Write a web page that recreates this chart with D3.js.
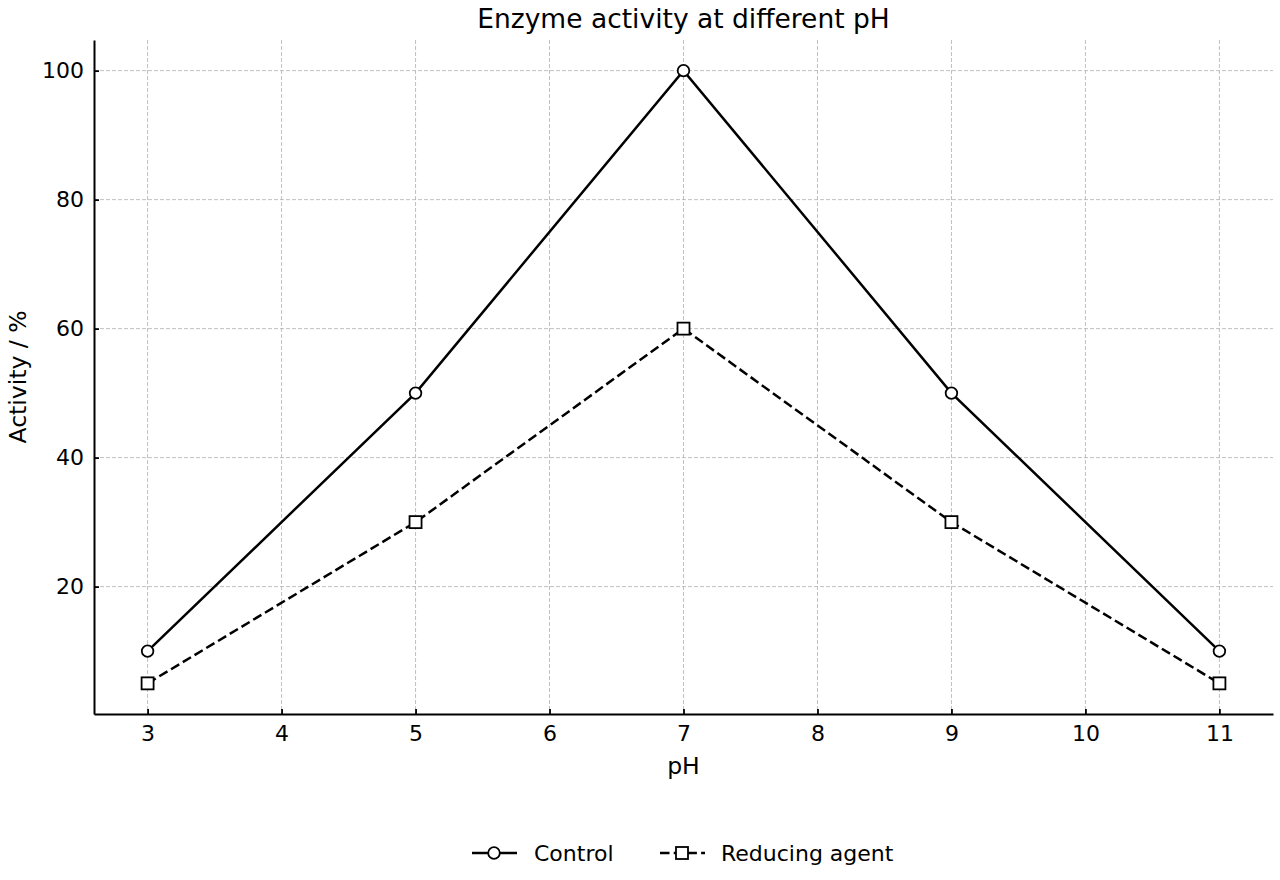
<!DOCTYPE html>
<html>
<head>
<meta charset="utf-8">
<script src="https://cdn.jsdelivr.net/npm/d3@7"></script>
<style>
  body { margin: 0; background: #fff; }
  svg { font-family: "DejaVu Sans", sans-serif; }
  .grid line { stroke: #b0b0b0; stroke-width: 0.8; stroke-dasharray: 4,2; }
  .axis path, .axis line { stroke: #000; }
  .axis path { stroke-width: 2; }
  .axis line { stroke-width: 1.8; }
  .axis text { fill: #000; font-family: "DejaVu Sans", sans-serif; font-size: 22px; }
</style>
</head>
<body>
<svg id="chart" width="1280" height="880"></svg>
<script>
var phValues = [3, 5, 7, 9, 11];
var controlValues = [10, 50, 100, 50, 10];
var reducingValues = [5, 30, 60, 30, 5];
var xTicks = [3, 4, 5, 6, 7, 8, 9, 10, 11];
var yTicks = [20, 40, 60, 80, 100];
var seriesNames = ["Control", "Reducing agent"];

var margin = {top: 40, right: 7, bottom: 166, left: 94};
var width = 1280 - margin.left - margin.right,
    height = 880 - margin.top - margin.bottom;

var svg = d3.select("#chart");
var g = svg.append("g")
    .attr("transform", "translate(" + margin.left + "," + margin.top + ")");

var x = d3.scaleLinear().domain([2.6, 11.4]).range([0, width]);
var y = d3.scaleLinear().domain([0.25, 104.75]).range([height, 0]);

// grid
g.append("g").attr("class", "grid")
  .selectAll("line").data(xTicks).enter().append("line")
    .attr("x1", function(d) { return x(d); })
    .attr("x2", function(d) { return x(d); })
    .attr("y1", 0).attr("y2", height);
g.append("g").attr("class", "grid")
  .selectAll("line").data(yTicks).enter().append("line")
    .attr("y1", function(d) { return y(d); })
    .attr("y2", function(d) { return y(d); })
    .attr("x1", 0).attr("x2", width);

// axes (ticks point inward)
var xAxis = g.append("g").attr("class", "axis")
    .attr("transform", "translate(0," + height + ")")
    .call(d3.axisBottom(x).tickValues(xTicks).tickSize(-5).tickSizeOuter(0).tickPadding(11));
xAxis.selectAll("text").attr("dy", "0.71em");
var yAxis = g.append("g").attr("class", "axis")
    .call(d3.axisLeft(y).tickValues(yTicks).tickSize(-5).tickSizeOuter(0).tickPadding(10));

// lines
var controlData = phValues.map(function(p, i) { return {x: p, y: controlValues[i]}; });
var reducingData = phValues.map(function(p, i) { return {x: p, y: reducingValues[i]}; });
var line = d3.line()
    .x(function(d) { return x(d.x); })
    .y(function(d) { return y(d.y); });

g.append("path").datum(controlData)
    .attr("fill", "none").attr("stroke", "#000").attr("stroke-width", 2.5)
    .attr("d", line);
g.append("path").datum(reducingData)
    .attr("fill", "none").attr("stroke", "#000").attr("stroke-width", 2.5)
    .attr("stroke-dasharray", "9.5,4.2")
    .attr("d", line);

g.selectAll(".dot-c").data(controlData).enter().append("circle")
    .attr("cx", function(d) { return x(d.x); })
    .attr("cy", function(d) { return y(d.y); })
    .attr("r", 5.8)
    .attr("fill", "#fff").attr("stroke", "#000").attr("stroke-width", 1.8);
g.selectAll(".dot-r").data(reducingData).enter().append("rect")
    .attr("x", function(d) { return x(d.x) - 6; })
    .attr("y", function(d) { return y(d.y) - 6; })
    .attr("width", 12).attr("height", 12)
    .attr("fill", "#fff").attr("stroke", "#000").attr("stroke-width", 1.8);

// title and labels
svg.append("text")
    .attr("x", margin.left + width / 2).attr("y", 28)
    .attr("text-anchor", "middle").attr("font-size", 26.5)
    .text("Enzyme activity at different pH");
svg.append("text")
    .attr("x", margin.left + width / 2).attr("y", 774)
    .attr("text-anchor", "middle").attr("font-size", 23.5)
    .text("pH");
svg.append("text")
    .attr("transform", "translate(26," + (margin.top + height / 2) + ") rotate(-90)")
    .attr("text-anchor", "middle").attr("font-size", 23.5)
    .text("Activity / %");

// legend
var legend = svg.append("g").attr("transform", "translate(472,853)");
var c = legend.append("g");
c.append("line").attr("x1", 0).attr("x2", 45).attr("y1", 0).attr("y2", 0)
    .attr("stroke", "#000").attr("stroke-width", 2.5);
c.append("circle").attr("cx", 22).attr("cy", 0).attr("r", 5.8)
    .attr("fill", "#fff").attr("stroke", "#000").attr("stroke-width", 1.8);
c.append("text").attr("x", 62).attr("y", 8).attr("font-size", 22).text(seriesNames[0]);

var r = legend.append("g").attr("transform", "translate(188,0)");
r.append("line").attr("x1", 0).attr("x2", 45).attr("y1", 0).attr("y2", 0)
    .attr("stroke", "#000").attr("stroke-width", 2.5).attr("stroke-dasharray", "9.5,4.2");
r.append("rect").attr("x", 16).attr("y", -6).attr("width", 12).attr("height", 12)
    .attr("fill", "#fff").attr("stroke", "#000").attr("stroke-width", 1.8);
r.append("text").attr("x", 61).attr("y", 8).attr("font-size", 22).text(seriesNames[1]);
</script>
</body>
</html>
